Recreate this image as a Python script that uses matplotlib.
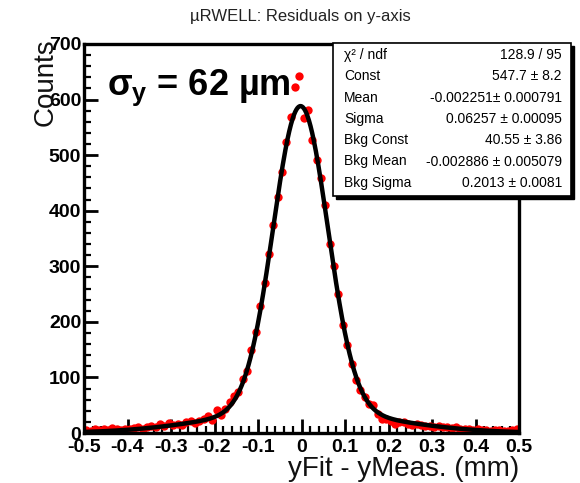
import numpy as np
import matplotlib
matplotlib.use("Agg")
import matplotlib.pyplot as plt
from matplotlib.patches import Rectangle
from matplotlib.ticker import MultipleLocator, FuncFormatter

plt.rcParams['font.family'] = ['Liberation Sans', 'DejaVu Sans']
plt.rcParams['axes.unicode_minus'] = False
plt.rcParams['mathtext.fontset'] = 'custom'
plt.rcParams['mathtext.rm'] = 'Liberation Sans:bold'
plt.rcParams['mathtext.it'] = 'Liberation Sans:bold'
plt.rcParams['mathtext.bf'] = 'Liberation Sans:bold'

# histogram: 100 bins from -0.5 to 0.5 mm
bin_edges = np.linspace(-0.5, 0.5, 101)
counts = [
    6, 4, 7, 5, 8, 6, 9, 7, 5, 8,
    7, 9, 11, 8, 10, 13, 11, 16, 13, 18,
    15, 17, 14, 19, 21, 18, 22, 26, 31, 24,
    41, 33, 44, 55, 66, 74, 98, 112, 150, 182,
    228, 270, 322, 375, 425, 470, 524, 568, 622, 643,
    566, 581, 527, 492, 458, 410, 341, 300, 251, 194,
    158, 125, 95, 77, 65, 53, 50, 35, 26, 25,
    22, 17, 20, 19, 16, 14, 16, 14, 12, 13,
    11, 12, 10, 11, 9, 10, 8, 7, 8, 6,
    8, 5, 6, 4, 5, 6, 3, 4, 5, 7,
]

# fit parameters (from the stats box)
const, mean, sigma = 547.7, -0.002251, 0.06257
bkg_const, bkg_mean, bkg_sigma = 40.55, -0.002886, 0.2013

stat_labels = ["\u03c7\u00b2 / ndf", "Const", "Mean", "Sigma",
               "Bkg Const", "Bkg Mean", "Bkg Sigma"]
stat_values = ["128.9 / 95", "547.7 \u00b1 8.2", "-0.002251\u00b1 0.000791",
               "0.06257 \u00b1 0.00095", "40.55 \u00b1 3.86",
               "-0.002886 \u00b1 0.005079", "0.2013 \u00b1 0.0081"]


def fit_func(x):
    sig = const * np.exp(-0.5 * ((x - mean) / sigma) ** 2)
    bkg = bkg_const * np.exp(-0.5 * ((x - bkg_mean) / bkg_sigma) ** 2)
    return sig + bkg


W, H = 580, 483
fig = plt.figure(figsize=(W / 100, H / 100), dpi=100)
ax = fig.add_axes([84 / W, 1 - 433 / H, (519 - 84) / W, (433 - 44) / H])

centers = 0.5 * (bin_edges[:-1] + bin_edges[1:])
ax.plot(centers, counts, 'o', color='red', ms=6, mec='none', zorder=2)
xf = np.linspace(-0.5, 0.5, 800)
ax.plot(xf, fit_func(xf), color='black', lw=3.2, zorder=3)

ax.set_xlim(-0.5, 0.5)
ax.set_ylim(0, 700)
ax.xaxis.set_major_locator(MultipleLocator(0.1))
ax.xaxis.set_minor_locator(MultipleLocator(0.02))
ax.yaxis.set_major_locator(MultipleLocator(100))
ax.yaxis.set_minor_locator(MultipleLocator(20))
ax.xaxis.set_major_formatter(FuncFormatter(lambda v, p: "0" if abs(v) < 1e-9 else f"{v:.1f}"))
ax.tick_params(which='major', direction='in', length=10, width=2,
               labelsize=14, top=False, right=False)
ax.tick_params(which='minor', direction='in', length=5, width=1.6,
               top=False, right=False)
ax.tick_params(axis='y', pad=2)
ax.tick_params(axis='x', pad=4)
for lbl in ax.get_xticklabels() + ax.get_yticklabels():
    lbl.set_fontweight('bold')
for sp in ax.spines.values():
    sp.set_linewidth(2.4)

ax.text(-0.447, 608, "$\\sigma_y$ = 62 \u00b5m",
        fontsize=26, fontweight='bold', va='baseline', ha='left', zorder=4)

fig.text(300 / W, 1 - 17 / H, "\u00b5RWELL: Residuals on y-axis",
         fontsize=12, ha='center', va='center', color='#222222')
fig.text(46 / W, 1 - 38 / H, "Counts", rotation=90, fontsize=20,
         ha='center', va='top', color='#111111')
fig.text(519 / W, 1 - 476 / H, "yFit - yMeas. (mm)", fontsize=20,
         ha='right', va='baseline', color='#111111')

# stats box with shadow
bx0, bx1, by0, by1 = 333, 571, 43, 196
fig.patches.append(Rectangle(((bx0 + 3) / W, 1 - (by1 + 3) / H),
                             (bx1 - bx0) / W, (by1 - by0) / H,
                             transform=fig.transFigure, facecolor='black',
                             edgecolor='black', zorder=5))
fig.patches.append(Rectangle((bx0 / W, 1 - by1 / H),
                             (bx1 - bx0) / W, (by1 - by0) / H,
                             transform=fig.transFigure, facecolor='white',
                             edgecolor='black', lw=1.2, zorder=6))
for i, (lab, val) in enumerate(zip(stat_labels, stat_values)):
    yy = 1 - (55 + i * 21.3) / H
    fig.text(344 / W, yy, lab, fontsize=10, ha='left', va='center', zorder=7)
    fig.text(562 / W, yy, val, fontsize=10, ha='right', va='center', zorder=7)

fig.savefig("out.png", dpi=100)
